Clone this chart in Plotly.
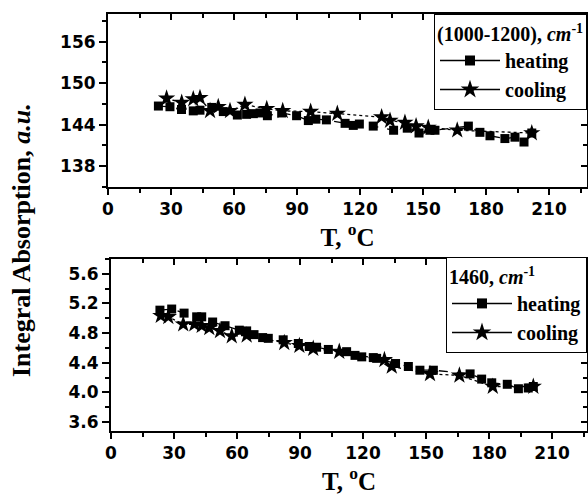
import plotly.graph_objects as go

# ---------------- data ----------------
# Top panel: (1000-1200) cm-1
top_heat_T = [24, 29.5, 35, 40.6, 43.8, 49.4, 54.9, 61.6, 66, 69.2, 72.4, 75.9, 82.7, 89.8,
              95.4, 99, 104, 112.9, 116.8, 119.7, 126.3, 136, 142.5, 148.1, 153.3, 155.7,
              171.6, 177.1, 181.9, 189, 193.8, 198.1, 201.8]
top_heat_A = [146.7, 146.6, 146.2, 146.0, 146.1, 146.5, 145.9, 145.4, 145.5, 145.6, 145.7,
              145.3, 145.7, 145.3, 144.6, 144.8, 144.7, 144.2, 143.9, 144.1, 143.8, 143.2,
              143.5, 142.8, 143.2, 143.2, 143.8, 142.9, 142.4, 142.0, 142.2, 141.5, 142.8]
top_cool_T = [27.9, 35.1, 40.6, 43.8, 48.6, 52.5, 58.1, 65.2, 75.6, 83.2, 96.5, 109.2,
              130.3, 134.3, 141.4, 146.7, 152.5, 166.3, 201.8]
top_cool_A = [147.8, 147.2, 147.7, 147.9, 146.0, 146.6, 146.0, 146.9, 146.3, 146.0, 145.9,
              145.6, 145.1, 144.6, 144.3, 143.8, 143.6, 143.2, 142.8]

# Bottom panel: 1460 cm-1
bot_heat_T = [23.3, 28.9, 34.8, 40.8, 43.2, 48.4, 54.3, 61.1, 64.6, 68.1, 72.2, 74.9, 82,
              89.2, 94.4, 97.9, 103.5, 112.2, 116.2, 119.4, 124.9, 126.5, 135.5, 141.6,
              147.1, 153.5, 171, 176.5, 181.3, 188.7, 194, 198.7, 201.1]
bot_heat_A = [5.11, 5.125, 5.07, 5.02, 5.02, 4.95, 4.90, 4.84, 4.83, 4.78, 4.74, 4.73, 4.71,
              4.66, 4.62, 4.61, 4.58, 4.55, 4.50, 4.48, 4.47, 4.46, 4.39, 4.35, 4.30, 4.30,
              4.25, 4.18, 4.13, 4.11, 4.05, 4.06, 4.08]
bot_cool_T = [23.7, 27.3, 34.4, 39.7, 43.2, 46.8, 51.9, 57.5, 64.6, 82.5, 89.7, 96.3, 108.7,
              130.2, 133.7, 151.9, 165.9, 181.8, 201.1]
bot_cool_A = [5.035, 5.02, 4.92, 4.92, 4.90, 4.87, 4.83, 4.76, 4.77, 4.67, 4.63, 4.59, 4.55,
              4.44, 4.35, 4.25, 4.23, 4.08, 4.08]

x_ticks = [0, 30, 60, 90, 120, 150, 180, 210]
x_tick_labels = ["0", "30", "60", "90", "120", "150", "180", "210"]
top_y_ticks = [138, 144, 150, 156]
top_y_tick_labels = ["138", "144", "150", "156"]
bot_y_ticks = [3.6, 4.0, 4.4, 4.8, 5.2, 5.6]
bot_y_tick_labels = ["3.6", "4.0", "4.4", "4.8", "5.2", "5.6"]
top_legend_title = "(1000-1200), <i>cm</i><sup>-1</sup>"
bot_legend_title = "1460, <i>cm</i><sup>-1</sup>"
series_names = ["heating", "cooling"]
x_title = "T, <sup>o</sup>C"
y_title = "Integral Absorption, <i>a.u.</i>"

# ---------------- styling ----------------
SANS = "DejaVu Sans"
SERIF = "Liberation Serif, Times New Roman, serif"
tickfont = dict(family=SANS, size=17, color="black", weight="bold")
titlefont = dict(family=SERIF, size=25, color="black", weight="bold")
ytitlefont = dict(family=SERIF, size=26, color="black", weight="bold")
legfont = dict(family=SERIF, size=20, color="black", weight="bold")

fig = go.Figure()

def add_panel(xa, ya, heatT, heatA, coolT, coolA, legend):
    fig.add_trace(go.Scatter(x=heatT, y=heatA, mode="lines+markers", xaxis=xa, yaxis=ya,
                             line=dict(color="black", width=1.3, dash="dash"),
                             marker=dict(symbol="square", size=9, color="black"),
                             showlegend=False, hoverinfo="skip"))
    fig.add_trace(go.Scatter(x=coolT, y=coolA, mode="lines+markers", xaxis=xa, yaxis=ya,
                             line=dict(color="black", width=1.3, dash="dot"),
                             marker=dict(symbol="star", size=13, color="black"),
                             showlegend=False, hoverinfo="skip"))
    # legend entries (solid lines, as in the reference legend)
    for name, sym, sz in [(series_names[0], "square", 10), (series_names[1], "star", 14)]:
        fig.add_trace(go.Scatter(x=[None], y=[None], mode="lines+markers", name=name,
                                 xaxis=xa, yaxis=ya, legend=legend,
                                 line=dict(color="black", width=1.5),
                                 marker=dict(symbol=sym, size=sz, color="black")))

add_panel("x", "y", top_heat_T, top_heat_A, top_cool_T, top_cool_A, "legend")
add_panel("x2", "y2", bot_heat_T, bot_heat_A, bot_cool_T, bot_cool_A, "legend2")
# invisible traces so the mirrored (inside-tick) axes get drawn
fig.add_trace(go.Scatter(x=top_heat_T, y=top_heat_A, mode="none", xaxis="x3", yaxis="y3",
                         showlegend=False, hoverinfo="skip"))
fig.add_trace(go.Scatter(x=bot_heat_T, y=bot_heat_A, mode="none", xaxis="x4", yaxis="y4",
                         showlegend=False, hoverinfo="skip"))

W, H = 588, 500
L, R, T, B = 108, 1, 14, 69
pw = W - L - R
ph = H - T - B
top_dom = [(431 - 187) / ph, 1.0]
bot_dom = [0.0, (431 - 259) / ph]
px_per_unit = 2.1
top_xr = [0, pw / px_per_unit]
bot_xdom = [3 / pw, 1.0]
bot_xr = [0, (pw - 3) / px_per_unit]
top_yr = [135.0, 160.0]
bot_yr = [3.48, 5.8]

def xmain(dom, rng, anchor):
    return dict(domain=dom, range=rng, anchor=anchor, tickvals=x_ticks,
                ticktext=x_tick_labels, ticks="outside",
                ticklen=6, tickwidth=1.5, tickcolor="black", showline=True, linewidth=2,
                linecolor="black", showgrid=False, zeroline=False, tickfont=tickfont,
                minor=dict(dtick=15, tick0=0, ticks="outside", ticklen=4, tickwidth=1.5,
                           tickcolor="black"),
                title=dict(text=x_title, font=titlefont, standoff=2))

def ymain(dom, rng, anchor, tv, tl, minor_dt):
    return dict(domain=dom, range=rng, anchor=anchor, tickvals=tv, ticktext=tl,
                ticks="outside",
                ticklen=7, tickwidth=1.5, tickcolor="black", showline=True, linewidth=2,
                linecolor="black", showgrid=False, zeroline=False, tickfont=tickfont,
                minor=dict(dtick=minor_dt, tick0=tv[0], ticks="outside", ticklen=4,
                           tickwidth=1.5, tickcolor="black"))

def xmirror(dom, rng, anchor, over):
    return dict(domain=dom, range=rng, anchor=anchor, overlaying=over, side="top",
                tickvals=x_ticks, ticks="inside", ticklen=6, tickwidth=1.5, tickcolor="black",
                showticklabels=False, showline=True, linewidth=1.5, linecolor="black",
                showgrid=False, zeroline=False,
                minor=dict(dtick=15, tick0=0, ticks="inside", ticklen=4, tickwidth=1.5,
                           tickcolor="black"))

def ymirror(dom, rng, anchor, over, tv, minor_dt):
    return dict(domain=dom, range=rng, anchor=anchor, overlaying=over, side="right",
                tickvals=tv, ticks="inside", ticklen=6, tickwidth=1.5, tickcolor="black",
                showticklabels=False, showline=True, linewidth=1.5, linecolor="black",
                showgrid=False, zeroline=False,
                minor=dict(dtick=minor_dt, tick0=tv[0], ticks="inside", ticklen=4,
                           tickwidth=1.5, tickcolor="black"))

legend_common = dict(bgcolor="white", bordercolor="black", borderwidth=1, font=legfont,
                     xanchor="right", yanchor="top", x=1.0, itemwidth=60,
                     tracegroupgap=0)

fig.update_layout(
    width=W, height=H, margin=dict(l=L, r=R, t=T, b=B, autoexpand=False),
    paper_bgcolor="white", plot_bgcolor="white",
    xaxis=xmain([0, 1], top_xr, "y"),
    yaxis=ymain(top_dom, top_yr, "x", top_y_ticks, top_y_tick_labels, 3),
    xaxis2=xmain(bot_xdom, bot_xr, "y2"),
    yaxis2=ymain(bot_dom, bot_yr, "x2", bot_y_ticks, bot_y_tick_labels, 0.2),
    xaxis3=xmirror([0, 1], top_xr, "y", "x"),
    yaxis3=ymirror(top_dom, top_yr, "x", "y", top_y_ticks, 3),
    xaxis4=xmirror(bot_xdom, bot_xr, "y2", "x2"),
    yaxis4=ymirror(bot_dom, bot_yr, "x2", "y2", bot_y_ticks, 0.2),
    legend=dict(y=1.0, title=dict(text=top_legend_title, font=legfont), **legend_common),
    legend2=dict(y=bot_dom[1] + 0.005, title=dict(text=bot_legend_title, font=legfont),
                 **legend_common),
    annotations=[dict(text=y_title, textangle=-90, xref="paper", yref="paper",
                      x=(22 - L) / pw, y=(431 - 240) / ph, xanchor="center",
                      yanchor="middle", showarrow=False, font=ytitlefont)],
)

fig.write_html("out.html")
